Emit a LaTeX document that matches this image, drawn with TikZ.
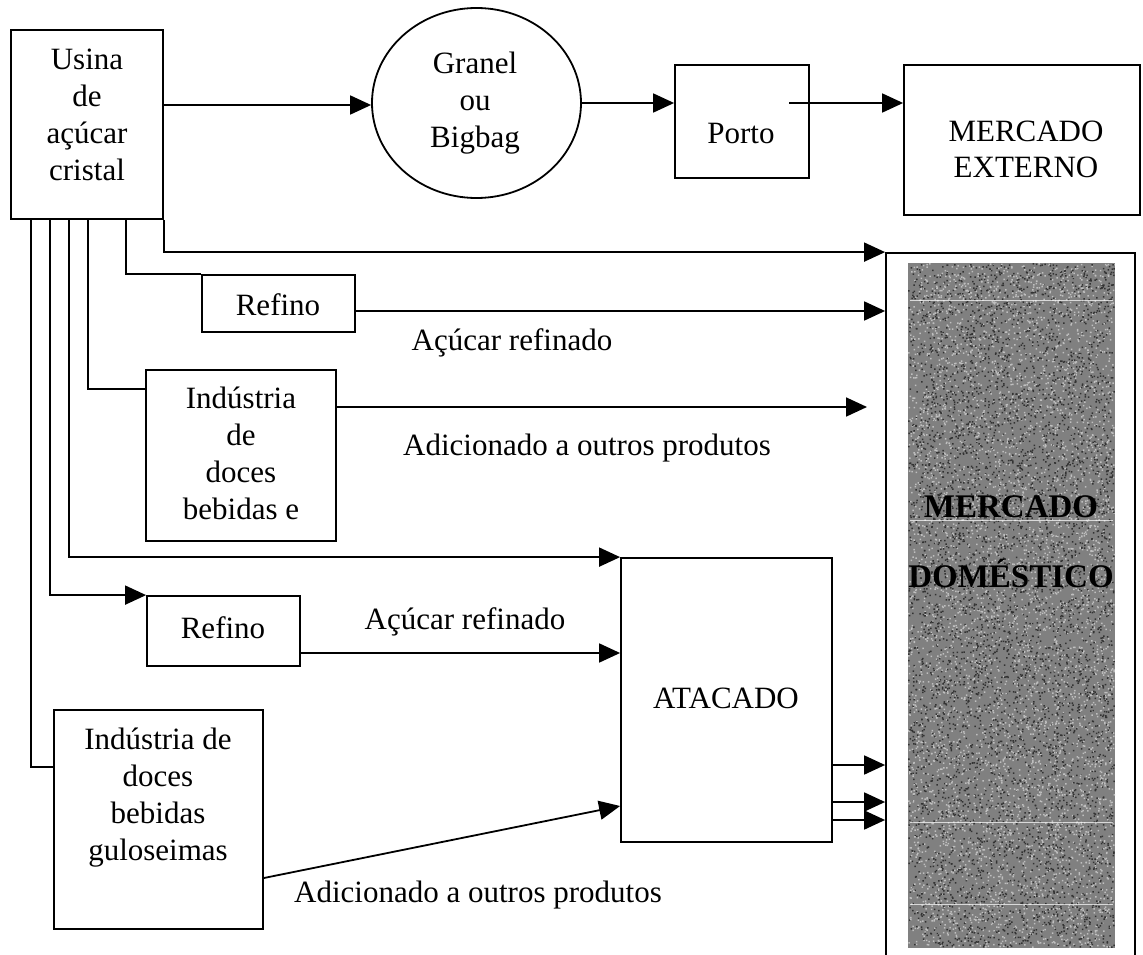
\documentclass[tikz,border=0pt]{standalone}
\usepackage{fontspec}
\setmainfont{Liberation Serif}
\usetikzlibrary{arrows.meta,shapes.geometric}
\begin{document}
\begin{tikzpicture}[x=1pt,y=-1pt,
  box/.style={draw, line width=1.8pt, inner sep=0pt},
  txt/.style={font=\fontsize{31}{36.7}\selectfont, align=center, inner sep=0pt, anchor=base},
  mdtxt/.style={font=\fontsize{33}{38}\selectfont\bfseries, inner sep=0pt, anchor=base},
  link/.style={line width=1.8pt},
  flow/.style={link, -{Triangle[length=21pt,width=19pt]}}
]
\useasboundingbox (0,0) rectangle (1143,955);

% boxes
\node[box, minimum width=152pt, minimum height=189pt] (usina) at (87,124.5) {};
\node[box, ellipse, minimum width=209pt, minimum height=190pt] (gran) at (476.5,103) {};
\node[box, minimum width=134pt, minimum height=113pt] (porto) at (742,121.5) {};
\node[box, minimum width=236pt, minimum height=150pt] (mext) at (1022,140) {};
\node[box, minimum width=249pt, minimum height=709pt] (md) at (1010.5,607.5) {};
\node[box, minimum width=153pt, minimum height=57pt] (ref1) at (278.5,303.5) {};
\node[box, minimum width=190pt, minimum height=171pt] (ind1) at (241,455.5) {};
\node[box, minimum width=211pt, minimum height=284pt] (atac) at (726.5,700) {};
\node[box, minimum width=153pt, minimum height=70pt] (ref2) at (223.5,631) {};
\node[box, minimum width=209pt, minimum height=219pt] (ind2) at (158.5,819.5) {};

% grainy gray panel of the domestic market, built in small batches
\fill[black!50] (908,263) rectangle (1115,948);
\pgfmathsetseed{7}
\foreach \k in {1,...,6} {
  \fill[white!75!black] \foreach \i in {1,...,900} {({908+205.5*rnd},{263+683.5*rnd}) rectangle ++(1.5,1.5)};
  \fill[black!80] \foreach \i in {1,...,900} {({908+205.5*rnd},{263+683.5*rnd}) rectangle ++(1.5,1.5)};
}
\foreach \yy in {300,520,822,904}
  \draw[white, line width=0.8pt, opacity=0.7] (910,\yy) -- (1113,\yy);

% box texts (anchored at the baseline of the last line)
\node[txt] (tusina) at (87,180) {Usina\\de\\açúcar\\cristal};
\node[txt] (tgran) at (475,147) {Granel\\ou\\Bigbag};
\node[txt] (tporto) at (741,143) {Porto};
\node[txt] (tmext) at (1026,178) {MERCADO\\EXTERNO};
\node[txt] (tref1) at (278,315) {Refino};
\node[txt] (tind1) at (241,519) {Indústria\\de\\doces\\bebidas e};
\node[txt] (tref2) at (223,638) {Refino};
\node[txt] (tind2) at (158,860) {Indústria de\\doces\\bebidas\\guloseimas};
\node[txt] (tatac) at (726,708) {ATACADO};
\node[mdtxt] (tmd1) at (1011,517) {MERCADO};
\node[mdtxt] (tmd2) at (1011,587) {DOMÉSTICO};

% flow labels
\node[txt] (l1) at (512,350) {Açúcar refinado};
\node[txt] (l2) at (587,455) {Adicionado a outros produtos};
\node[txt] (l3) at (465,629) {Açúcar refinado};
\node[txt] (l4) at (478,902) {Adicionado a outros produtos};

% export chain
\draw[flow] (usina.east |- 0,105) -- (gran.west |- 0,105);
\draw[flow] (gran.east) -- (gran.east -| porto.west);
\coordinate (pout) at (789,103);
\draw[flow] (pout) -- (pout -| mext.west);

% domestic branches leaving the mill
\draw[flow] (usina.south east) |- (md.north west);
\draw[link] ([xshift=116pt]usina.south west) |- (ref1.north west);
\draw[flow] ([yshift=-7.5pt]ref1.east) -- ([yshift=-7.5pt]ref1.east -| md.west);
\draw[link] ([xshift=78pt]usina.south west) |- ([yshift=66.5pt]ind1.west);
\coordinate (i1end) at (867,407);
\draw[flow] ([yshift=48.5pt]ind1.east) -- (i1end);
\draw[flow] ([xshift=59pt]usina.south west) |- (atac.north west);
\draw[flow] ([xshift=40pt]usina.south west) |- (ref2.north west);
\draw[flow] ([yshift=-22pt]ref2.east) -- ([yshift=-22pt]ref2.east -| atac.west);
\draw[link] ([xshift=21pt]usina.south west) |- ([yshift=52.5pt]ind2.west);
\draw[flow] ([yshift=-58.5pt]ind2.east) -- ([yshift=-106pt]atac.west);

% wholesale to domestic market
\foreach \s in {-65,-102,-120}
  \draw[flow] ([yshift=\s pt]atac.east) -- ([yshift=\s pt]atac.east -| md.west);
\end{tikzpicture}
\end{document}
